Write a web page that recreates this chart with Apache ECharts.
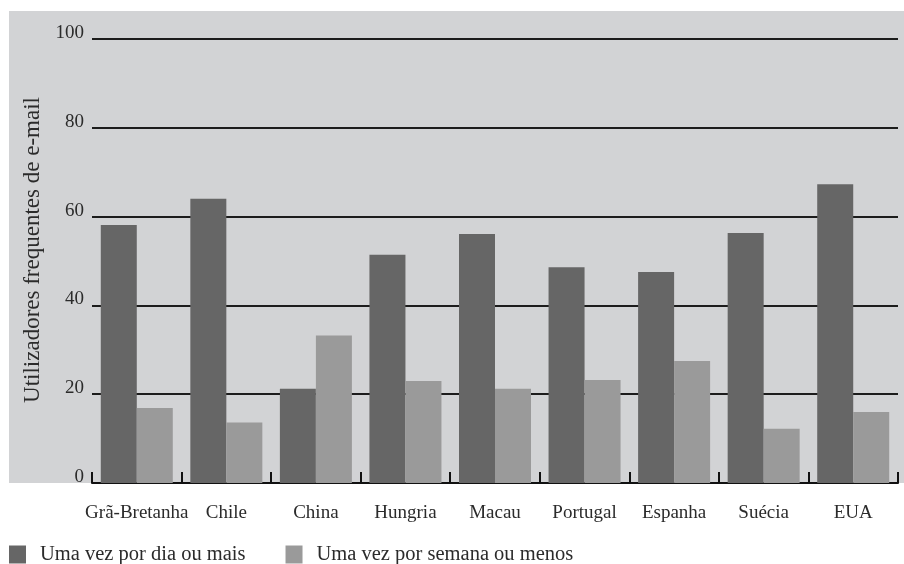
<!DOCTYPE html>
<html>
<head>
<meta charset="utf-8">
<script src="https://cdn.jsdelivr.net/npm/echarts@6/dist/echarts.min.js"></script>
<style>
  html, body { margin: 0; padding: 0; background: #ffffff; }
  #chart { width: 904px; height: 564px; }
</style>
</head>
<body>
<div id="chart"></div>
<script>
// Frequência de utilização do e-mail por país (%)
const countries = ['Grã-Bretanha', 'Chile', 'China', 'Hungria', 'Macau', 'Portugal', 'Espanha', 'Suécia', 'EUA'];
const dailyOrMore = [58.1, 64.0, 21.2, 51.4, 56.1, 48.6, 47.5, 56.3, 67.3];
const weeklyOrLess = [16.9, 13.6, 33.2, 23.0, 21.2, 23.2, 27.5, 12.2, 16.0];
const seriesNames = ['Uma vez por dia ou mais', 'Uma vez por semana ou menos'];
const axisTitle = 'Utilizadores frequentes de e-mail';

const FONT = '"Liberation Serif", "DejaVu Serif", serif';
const TEXT = '#2b2b2b';

const chart = echarts.init(document.getElementById('chart'), null, { renderer: 'canvas' });

chart.setOption({
  backgroundColor: '#ffffff',
  animation: false,
  textStyle: { fontFamily: FONT, color: TEXT },
  graphic: [
    {
      // grey panel behind the plot
      type: 'rect',
      z: -10,
      silent: true,
      shape: { x: 9, y: 11, width: 895, height: 472 },
      style: { fill: '#d2d3d5' }
    },
    {
      // vertical axis title
      type: 'text',
      x: 33,
      y: 250,
      rotation: Math.PI / 2,
      silent: true,
      style: {
        text: axisTitle,
        font: '23px ' + FONT,
        fill: TEXT,
        align: 'center',
        verticalAlign: 'middle'
      }
    }
  ],
  grid: { left: 92, right: 6, top: 39, bottom: 81, containLabel: false },
  legend: {
    left: 9,
    top: 544,
    padding: 0,
    itemWidth: 17,
    itemHeight: 18,
    itemGap: 40,
    icon: 'rect',
    textStyle: { fontFamily: FONT, fontSize: 20.5, color: TEXT, padding: [0, 0, 0, 9] },
    data: seriesNames
  },
  xAxis: {
    type: 'category',
    data: countries,
    boundaryGap: true,
    axisLine: { show: true, lineStyle: { color: '#111111', width: 2 } },
    axisTick: { show: true, inside: true, length: 11, lineStyle: { color: '#111111', width: 2 } },
    axisLabel: { fontFamily: FONT, fontSize: 19, color: TEXT, margin: 21, interval: 0 },
    z: 1
  },
  yAxis: {
    type: 'value',
    min: 0,
    max: 100,
    interval: 20,
    axisLine: { show: false },
    axisTick: { show: false },
    axisLabel: {
      fontFamily: FONT, fontSize: 19, color: TEXT, margin: 8,
      verticalAlign: 'bottom', lineHeight: 12
    },
    splitLine: { show: true, lineStyle: { color: '#1c1c1c', width: 2 } }
  },
  series: [
    {
      name: seriesNames[0],
      type: 'bar',
      data: dailyOrMore,
      barWidth: 36,
      barGap: '0%',
      itemStyle: { color: '#666666' },
      z: 3
    },
    {
      name: seriesNames[1],
      type: 'bar',
      data: weeklyOrLess,
      barWidth: 36,
      barGap: '0%',
      itemStyle: { color: '#9a9a9a' },
      z: 3
    }
  ]
});
</script>
</body>
</html>
